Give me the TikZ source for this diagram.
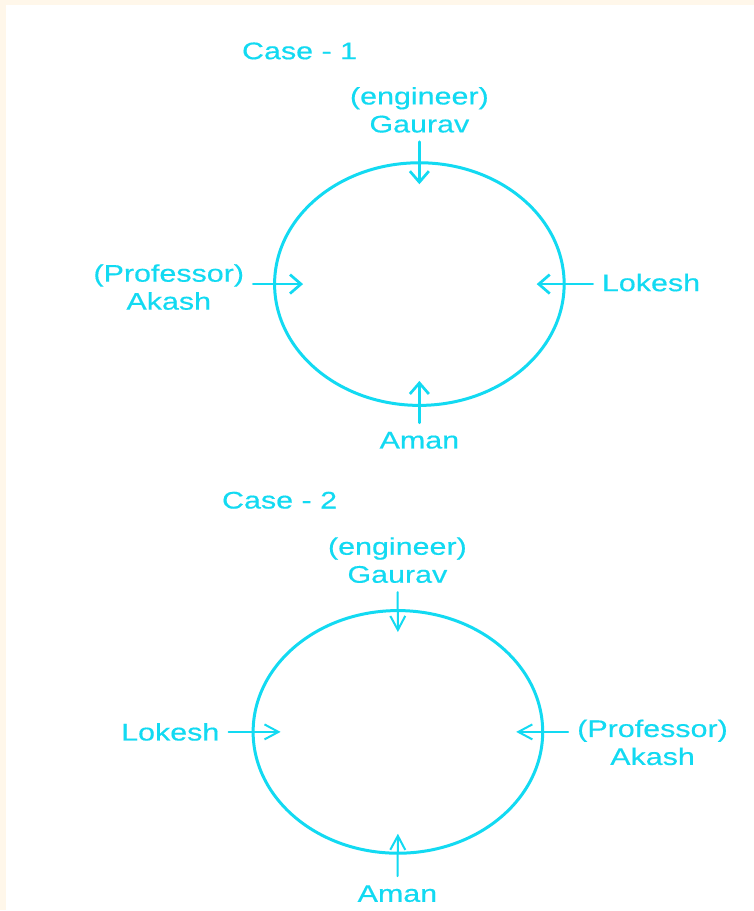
\documentclass[tikz,border=0pt]{standalone}
\usepackage{fontspec}
\setmainfont{Liberation Sans}[FakeStretch=1.27,FakeBold=0.4]
\usetikzlibrary{arrows.meta,shapes.geometric}
\definecolor{prcyan}{RGB}{18,218,242}
\definecolor{prcream}{RGB}{255,247,234}
\begin{document}
\begin{tikzpicture}[x=1pt,y=-1pt,font=\fontsize{24}{28}\selectfont,line cap=round,line join=round,
  lbl/.style={text=prcyan,inner sep=9pt,align=center},
  ring/.style={draw=prcyan,line width=3pt,ellipse,minimum width=290pt,minimum height=243pt,inner sep=0pt},
  arrA/.style={draw=prcyan,line width=2.7pt,-{Straight Barb[length=11pt,width=19pt]}},
  arrB/.style={draw=prcyan,line width=2pt,-{Straight Barb[length=14pt,width=15pt]}}]
\fill[prcream] (0,0) rectangle (755,911);
\fill[white] (6,5) rectangle (755,911);
\node[lbl] (case1) at (300,51) {Case - 1};
\node[ring] (c1) at (420,284.5) {};
\node[lbl] (gaurav1) at (420,110) {(engineer)\\Gaurav};
\node[lbl] (akash1) at (169,287.5) {(Professor)\\Akash};
\node[lbl] (lok1) at (652,283) {Lokesh};
\node[lbl] (aman1) at (420,441) {Aman};
\coordinate (t1) at ([yshift=-23pt]c1.north);
\coordinate (l1) at ([xshift=30pt]c1.west);
\coordinate (r1) at ([xshift=-29pt]c1.east);
\coordinate (b1) at ([yshift=26pt]c1.south);
\draw[arrA] (gaurav1) -- (t1);
\draw[arrA] (akash1.east |- l1) -- (l1);
\draw[arrA] (lok1.west |- r1) -- (r1);
\draw[arrA] (aman1) -- (b1);
\node[lbl] (case2) at (280,501) {Case - 2};
\node[ring] (c2) at (398.5,733) {};
\node[lbl] (gaurav2) at (398,561) {(engineer)\\Gaurav};
\node[lbl] (lok2) at (170.5,733) {Lokesh};
\node[lbl] (akash2) at (653.5,743.5) {(Professor)\\Akash};
\node[lbl] (aman2) at (398,895) {Aman};
\coordinate (t2) at ([yshift=-23pt]c2.north);
\coordinate (l2) at ([xshift=29pt]c2.west);
\coordinate (r2) at ([xshift=-28pt]c2.east);
\coordinate (b2) at ([yshift=21pt]c2.south);
\draw[arrB] (gaurav2) -- (t2);
\draw[arrB] (lok2.east |- l2) -- (l2);
\draw[arrB] (akash2.west |- r2) -- (r2);
\draw[arrB] (aman2) -- (b2);
\end{tikzpicture}
\end{document}
